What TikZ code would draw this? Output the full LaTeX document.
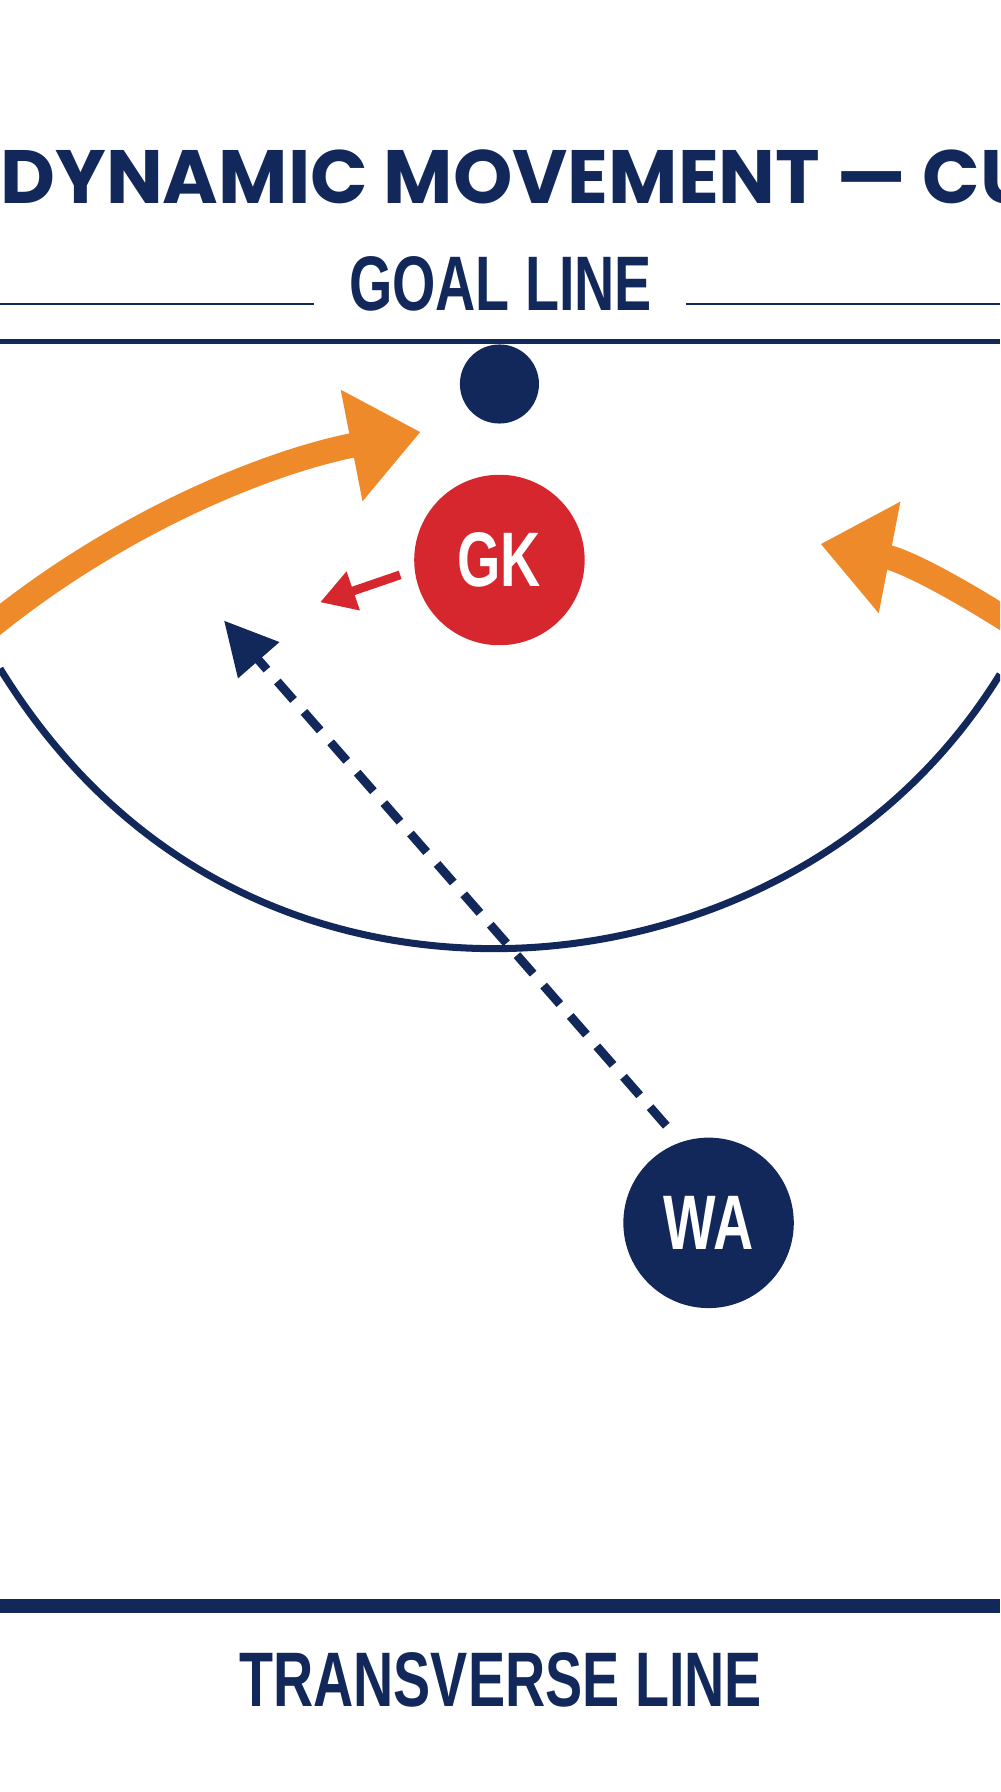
\documentclass[tikz,border=0pt]{standalone}
\usepackage{fontspec}
\setmainfont{Liberation Sans}
\newfontfamily\titlefont{Poppins}
\usetikzlibrary{arrows.meta}
\definecolor{navy}{HTML}{12285A}
\definecolor{orng}{HTML}{EE8A2A}
\definecolor{rd}{HTML}{D6272E}
\tikzset{
 cond/.style={text=navy,font=\fontsize{44}{48}\selectfont\bfseries},
 player/.style={circle,minimum size=97pt,inner sep=0pt,text=white,font=\fontsize{44}{48}\selectfont\bfseries},
 orarrow/.style={orng,line width=14pt,-{Triangle[length=40pt,width=62pt]}},
}
\begin{document}
\begin{tikzpicture}[x=0.022857cm,y=-0.022857cm]
\useasboundingbox (0,0) rectangle (875,1568);
\fill[white] (0,0) rectangle (875,1568);
\clip (0,0) rectangle (875,1568);
\node[text=navy,font=\titlefont\fontsize{43}{46}\selectfont\bfseries,anchor=west] (title) at (-5,155) {DYNAMIC MOVEMENT — CU};
\node[cond] (goal) at (438,248) {\scalebox{0.72}[1]{GOAL LINE}};
\draw[navy,line width=1.5pt] (0,266) -- (275,266);
\draw[navy,line width=1.5pt] (600,266) -- (875,266);
\draw[navy,line width=3pt] (0,299) -- (875,299);
\node[circle,fill=navy,minimum size=45pt,inner sep=0pt] (ball) at (437,336) {};
\node[player,fill=rd] (gk) at (437,490) {\scalebox{0.72}[1]{GK}};
\node[player,fill=navy] (wa) at (620,1070) {\scalebox{0.72}[1]{WA}};
% circle arc
\draw[navy,line width=4pt] (0,585) .. controls (120,780) and (300,832) .. (440,830) .. controls (590,828) and (770,760) .. (875,590);
% orange arrows
\coordinate (l0) at (-10,550);
\coordinate (l1) at (368,378);
\draw[orarrow] (l0) .. controls (100,460) and (230,405) .. (l1);
\coordinate (r0) at (885,545);
\coordinate (r1) at (718,476);
\draw[orarrow] (r0) .. controls (830,510) and (790,490) .. (r1);
% red arrow
\coordinate (ra) at (280,527);
\draw[rd,line width=5pt,-{Triangle[length=20pt,width=22pt]}] (gk.west)++(-12,13) -- (ra);
% dashed arrow
\coordinate (da) at (196,543);
\draw[navy,line width=5pt,dash pattern=on 14pt off 9pt,-{Triangle[length=30pt,width=30pt]}] (583,985) -- (da);
\draw[navy,line width=8pt] (0,1405) -- (875,1405);
\node[cond] (trans) at (438,1470) {\scalebox{0.72}[1]{TRANSVERSE LINE}};
\end{tikzpicture}
\end{document}
